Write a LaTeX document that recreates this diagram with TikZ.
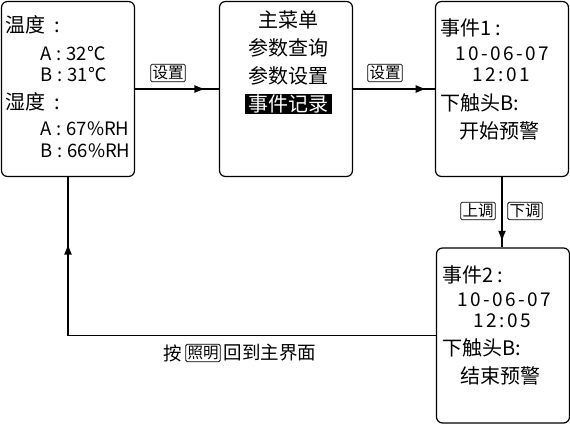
\documentclass[tikz,border=0pt]{standalone}
\usepackage{fontspec}
\setmainfont{Noto Sans CJK SC}
\usetikzlibrary{arrows.meta,positioning,decorations.markings}
\newcommand\bigtxt{\fontsize{20}{24}\selectfont}
\newcommand\midtxt{\fontsize{18.5}{22}\selectfont}
\newcommand\keytxt{\fontsize{15.5}{17}\selectfont}
\newcommand\datetxt{\fontsize{19}{22}\selectfont\addfontfeature{LetterSpace=13}}
\newcommand\gap{\hspace{5pt}}
\begin{document}
\begin{tikzpicture}[
        x=1pt, y=-1pt,
        screen/.style={draw, rounded corners=6pt, line width=1.2pt, minimum width=133pt, minimum height=175pt, inner sep=0pt},
        row/.style={anchor=west, inner sep=0pt},
        mid/.style={inner sep=0pt},
        key/.style={draw, rounded corners=1.5pt, line width=0.8pt, inner sep=1.8pt, font=\keytxt},
        wire/.style={line width=1.6pt},
        arrowat/.style={postaction={decorate}, decoration={markings, mark=at position #1 with {\arrow{Latex[length=11pt,width=8pt]}}}}
        ]
      \useasboundingbox (0,0) rectangle (570,424);

      % four screens
      \node[screen] (s1) at (68,89) {};
      \node[screen] (s2) at (286,89) {};
      \node[screen] (s3) at (502,89) {};
      \node[screen] (s4) at (503,335.5) {};

      % screen 1
      \node[row, font=\bigtxt] (t1) at (5,25) {温度\hspace{9pt}:};
      \node[row, font=\midtxt] (t1a) at (40,54) {A\gap:\gap32℃};
      \node[row, font=\midtxt] (t1b) at (40,75) {B\gap:\gap31℃};
      \node[row, font=\bigtxt] (h1) at (5,102) {湿度\hspace{9pt}:};
      \node[row, font=\midtxt] (h1a) at (40,129) {A\gap:\gap67\%RH};
      \node[row, font=\midtxt] (h1b) at (40,151) {B\gap:\gap66\%RH};

      % screen 2
      \node[mid, font=\bigtxt] (menu) at (288,20) {主菜单};
      \node[mid, font=\bigtxt] (query) at (288,48) {参数查询};
      \node[mid, font=\bigtxt] (setup) at (288,76) {参数设置};
      \node[fill=black, text=white, inner xsep=3.5pt, inner ysep=1pt, font=\bigtxt] (record) at (288,104) {事件记录};

      % screen 3
      \node[row, font=\bigtxt] (ev1) at (440,28) {事件1\hspace{4pt}:};
      \node[mid, font=\datetxt] (d1) at (502,54) {10-06-07};
      \node[mid, font=\datetxt] (c1) at (501,75) {12:01};
      \node[row, font=\bigtxt] (sw1) at (440,103) {下触头B:};
      \node[mid, font=\bigtxt] (st1) at (499,131) {开始预警};

      % screen 4
      \node[row, font=\bigtxt] (ev2) at (442,275) {事件2\hspace{4pt}:};
      \node[mid, font=\datetxt] (d2) at (504,300) {10-06-07};
      \node[mid, font=\datetxt] (c2) at (502,321) {12:05};
      \node[row, font=\bigtxt] (sw2) at (442,348) {下触头B:};
      \node[mid, font=\bigtxt] (st2) at (500,376) {结束预警};

      % connectors
      \draw[wire, arrowat=0.84] (s1.east) -- (s2.west);
      \node[key] (k1) at (168,73) {设置};
      \draw[wire, arrowat=0.9] (s2.east) -- (s3.west);
      \node[key] (k2) at (385,73) {设置};
      \draw[wire, arrowat=0.92] (s3.south) -- (s3.south |- s4.north);
      \node[key] (up) at (478,211) {上调};
      \node[key] (down) at (525,211) {下调};

      \coordinate (turn) at (s1.south |- s4.west);
      \draw[wire] (s4.west) -- (turn);
      \draw[wire, line width=1.3pt, arrowat=0.58] (turn) -- (s1.south);
      \node[key] (light) at (203,353) {照明};
      \node[font=\midtxt, inner sep=0pt, left=3pt of light] (press) {按};
      \node[font=\midtxt, inner sep=0pt, right=3pt of light] (back) {回到主界面};

    \end{tikzpicture}
\end{document}
